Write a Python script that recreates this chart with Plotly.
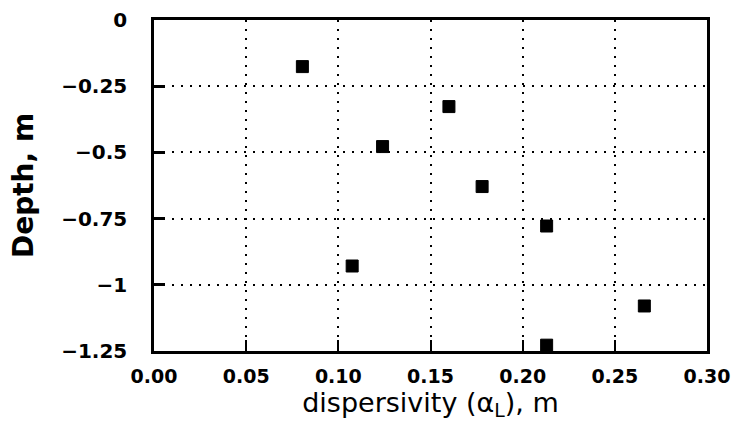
import plotly.graph_objects as go

dispersivity = [0.0805, 0.160, 0.124, 0.178, 0.213, 0.1075, 0.266, 0.213]
depth = [-0.176, -0.327, -0.478, -0.629, -0.778, -0.929, -1.080, -1.228]

x_tickvals = [0.00, 0.05, 0.10, 0.15, 0.20, 0.25, 0.30]
x_ticktext = ["0.00", "0.05", "0.10", "0.15", "0.20", "0.25", "0.30"]
y_tickvals = [0, -0.25, -0.5, -0.75, -1, -1.25]
y_ticktext = ["0", "−0.25", "−0.5", "−0.75", "−1", "−1.25"]

FONT = "DejaVu Sans"

fig = go.Figure()
fig.add_trace(go.Scatter(
    x=dispersivity, y=depth, mode="markers",
    marker=dict(symbol="square", size=12, color="black", line=dict(width=1, color="black")),
    showlegend=False, cliponaxis=True,
))

axis_common = dict(
    showline=True, linecolor="black", linewidth=2.5, mirror=True,
    ticks="inside", ticklen=11, tickcolor="black",
    showgrid=True, gridcolor="black", gridwidth=2, griddash="2px,7px",
    zeroline=False, automargin=False,
)

fig.update_xaxes(
    range=[0, 0.30], tickvals=x_tickvals, ticktext=x_ticktext,
    tickwidth=2, ticklabelstandoff=6,
    tickfont=dict(family=FONT, size=19, color="black", weight="bold"),
    title=dict(text="dispersivity (α<sub>L</sub>), m",
               font=dict(family=FONT, size=27, color="black", weight=500), standoff=4),
    **axis_common,
)
fig.update_yaxes(
    range=[-1.25, 0], tickvals=y_tickvals, ticktext=y_ticktext,
    tickwidth=3, ticklabelstandoff=20,
    tickfont=dict(family=FONT, size=20, color="black", weight="bold"),
    title=dict(text="Depth, m", font=dict(family=FONT, size=28, color="black", weight="bold"), standoff=20),
    **axis_common,
)

fig.update_layout(
    width=737, height=436,
    margin=dict(l=154, r=30, t=20, b=85),
    plot_bgcolor="white", paper_bgcolor="white",
    font=dict(family=FONT, color="black"),
)

# remove the browser's default 8px body margin so the figure sits at (0, 0)
fig.write_html("out.html", config={"displayModeBar": False},
               post_script="document.body.style.margin='0';")
